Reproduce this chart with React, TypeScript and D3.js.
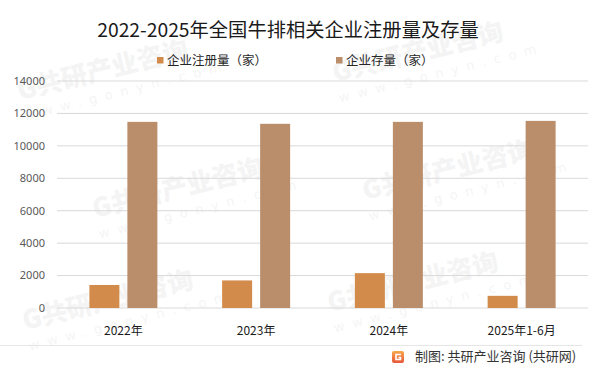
import { useMemo } from "react";
import * as d3 from "d3";

const WIDTH = 601;
const HEIGHT = 374;
const MARGIN = { top: 81, right: 13, bottom: 66, left: 57 };

const categories = ["2022年", "2023年", "2024年", "2025年1-6月"];
const registered = [1420, 1700, 2150, 750];
const existing = [11480, 11360, 11480, 11540];
const yTicks = [0, 2000, 4000, 6000, 8000, 10000, 12000, 14000];
const seriesNames = ["企业注册量（家）", "企业存量（家）"];
const colors = ["#D38B4C", "#BB8E6B"];

const FONT = "'Noto Sans CJK SC', 'Noto Sans', sans-serif";

// watermark tile anchors (kept inside the canvas)
const marks = [
  [20, 100], [335, 82],
  [95, 218], [365, 200],
  [25, 330], [330, 312],
];

const Watermark = ({ x, y }: { x: number; y: number }) => (
  <g transform={`translate(${x},${y}) rotate(-14)`} fill="#000" opacity={0.04}>
    <text fontSize={26} fontWeight={900} fontFamily={FONT}>G共研产业咨询</text>
    <text y={21} fontSize={13} letterSpacing={8} fontFamily="DejaVu Sans, sans-serif">www.gonyn.com</text>
  </g>
);

export default function App() {
  const { x, x1, y } = useMemo(() => {
    const x = d3
      .scaleBand()
      .domain(categories)
      .range([MARGIN.left, WIDTH - MARGIN.right])
      .paddingInner(0)
      .paddingOuter(0);
    const groupW = 68;
    const x1 = d3
      .scaleBand()
      .domain(["0", "1"])
      .range([(x.bandwidth() - groupW) / 2, (x.bandwidth() + groupW) / 2])
      .paddingInner(8 / 38)
      .paddingOuter(0);
    const y = d3
      .scaleLinear()
      .domain([0, 14000])
      .range([HEIGHT - MARGIN.bottom, MARGIN.top]);
    return { x, x1, y };
  }, []);

  const series = [registered, existing];

  return (
    <svg
      width={WIDTH}
      height={HEIGHT}
      style={{ position: "absolute", left: 0, top: 0, background: "#fff" }}
      fontFamily={FONT}
    >
      <rect width={WIDTH} height={HEIGHT} fill="#fff" />

      {/* watermarks */}
      {marks.map(([mx, my], i) => (
        <Watermark key={i} x={mx} y={my} />
      ))}

      {/* title */}
      <text x={288} y={37} textAnchor="middle" fontSize={19.3} fill="#1a1a1a">
        2022-2025年全国牛排相关企业注册量及存量
      </text>

      {/* legend */}
      <g fontSize={12.5} fill="#262626">
        <rect x={157} y={57} width={6.5} height={6.5} fill={colors[0]} />
        <text x={167} y={64.5}>{seriesNames[0]}</text>
        <rect x={336} y={57} width={6.5} height={6.5} fill={colors[1]} />
        <text x={346} y={64.5}>{seriesNames[1]}</text>
      </g>

      {/* grid + y labels */}
      {yTicks.map((t) => (
        <g key={t}>
          <line
            x1={MARGIN.left}
            x2={WIDTH - MARGIN.right}
            y1={y(t)}
            y2={y(t)}
            stroke="#d9d9d9"
            strokeWidth={1}
          />
          <text
            x={45}
            y={y(t)}
            dy="0.35em"
            textAnchor="end"
            fontSize={11}
            fill="#595959"
            fontFamily="'Noto Sans', sans-serif"
          >
            {t}
          </text>
        </g>
      ))}

      {/* bars */}
      {categories.map((c, i) => (
        <g key={c} transform={`translate(${x(c)},0)`}>
          {series.map((s, k) => (
            <rect
              key={k}
              x={x1(String(k))}
              y={y(s[i])}
              width={x1.bandwidth()}
              height={y(0) - y(s[i])}
              fill={colors[k]}
            />
          ))}
          <text
            x={x.bandwidth() / 2}
            y={335}
            textAnchor="middle"
            fontSize={12}
            fill="#1a1a1a"
          >
            {c}
          </text>
        </g>
      ))}

      {/* bottom divider */}
      <line x1={0} x2={582} y1={345.5} y2={345.5} stroke="#e6e6e6" strokeWidth={1} />

      {/* footer */}
      <g transform="translate(392,351)">
        <defs>
          <linearGradient id="lg" x1="0" y1="0" x2="0" y2="1">
            <stop offset="0" stopColor="#F7A84A" />
            <stop offset="1" stopColor="#E8553A" />
          </linearGradient>
        </defs>
        <rect width={12} height={12} rx={2} fill="url(#lg)" />
        <path d="M9 3.5 H4 V8.5 H8.5 V6.5 H6.5" fill="none" stroke="#fff" strokeWidth={1.6} />
      </g>
      <text x={415} y={361} fontSize={13} fill="#333">
        制图: 共研产业咨询 (共研网)
      </text>
    </svg>
  );
}
